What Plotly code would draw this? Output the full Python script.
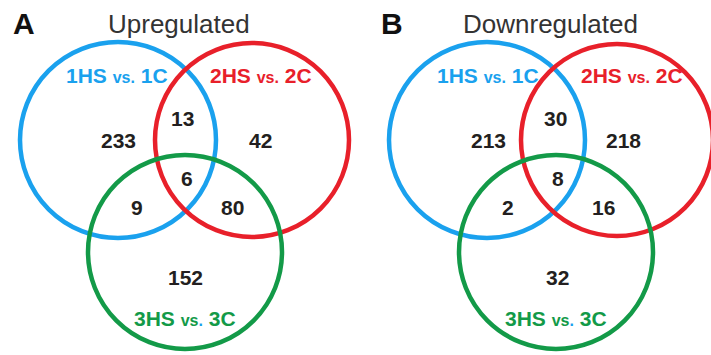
import plotly.graph_objects as go

# ---- data ----
panels = ["A", "B"]
titles = ["Upregulated", "Downregulated"]
set_names = [("1HS", "1C"), ("2HS", "2C"), ("3HS", "3C")]
# region order: only1, 1&2, only2, 1&2&3, 1&3, 2&3, only3
regions = ["only1", "1&2", "only2", "1&2&3", "1&3", "2&3", "only3"]
counts_up = [233, 13, 42, 6, 9, 80, 152]
counts_down = [213, 30, 218, 8, 2, 16, 32]
counts = [counts_up, counts_down]

# ---- layout / style (pixel coordinates) ----
W, H = 711, 355
colors = ["#1aa1ee", "#e8202a", "#139a48"]
panel_geom = [
    {"circles": [(118, 140, 98), (252, 140, 97), (185, 252, 97)],
     "letter": (24, 23), "title": (179, 24),
     "labels": [(117, 75), (261, 75), (185, 318)],
     "nums": [(118, 140), (182, 118), (260, 140), (187, 178), (137, 207), (232, 207), (185, 277)]},
    {"circles": [(487, 140, 98), (617, 140, 96), (556, 252, 97)],
     "letter": (392, 23), "title": (550, 24),
     "labels": [(488, 75), (632, 75), (556, 318)],
     "nums": [(488, 140), (555, 118), (623, 140), (558, 178), (508, 207), (603, 207), (557, 277)]},
]

FONT = "Liberation Sans, Arial, sans-serif"
fig = go.Figure()
fig.add_trace(go.Scatter(x=[0, W], y=[0, H], mode="markers", marker=dict(opacity=0), hoverinfo="skip"))

shapes = []
annotations = []
for p, geom in enumerate(panel_geom):
    for (cx, cy, r), col in zip(geom["circles"], colors):
        shapes.append(dict(type="circle", xref="x", yref="y",
                           x0=cx - r, x1=cx + r, y0=cy - r, y1=cy + r,
                           line=dict(color=col, width=4.5)))
    lx, ly = geom["letter"]
    annotations.append(dict(x=lx, y=ly, text="<b>%s</b>" % panels[p], showarrow=False,
                            font=dict(family=FONT, size=30, color="#111111")))
    tx, ty = geom["title"]
    annotations.append(dict(x=tx, y=ty, text=titles[p], showarrow=False,
                            font=dict(family=FONT, size=26, color="#333333")))
    for i, ((a, b), col, (x, y)) in enumerate(zip(set_names, colors, geom["labels"])):
        dot_col = colors[0] if i == 2 else col
        txt = ("<b>%s <span style='font-size:16px'>vs</span>"
               "<span style='font-size:16px;color:%s'>.</span> %s</b>") % (a, dot_col, b)
        annotations.append(dict(x=x, y=y, text=txt, showarrow=False,
                                font=dict(family=FONT, size=21, color=col)))
    for v, (x, y) in zip(counts[p], geom["nums"]):
        annotations.append(dict(x=x, y=y, text="<b>%d</b>" % v, showarrow=False,
                                font=dict(family=FONT, size=21, color="#231f20")))

fig.update_layout(
    width=W, height=H, margin=dict(l=0, r=0, t=0, b=0),
    paper_bgcolor="white", plot_bgcolor="white", showlegend=False,
    xaxis=dict(range=[0, W], visible=False, fixedrange=True),
    yaxis=dict(range=[H, 0], visible=False, fixedrange=True),
    shapes=shapes, annotations=annotations,
)
fig.write_html("out.html", config={"displayModeBar": False},
               post_script="document.body.style.margin='0';document.body.style.overflow='hidden';")
